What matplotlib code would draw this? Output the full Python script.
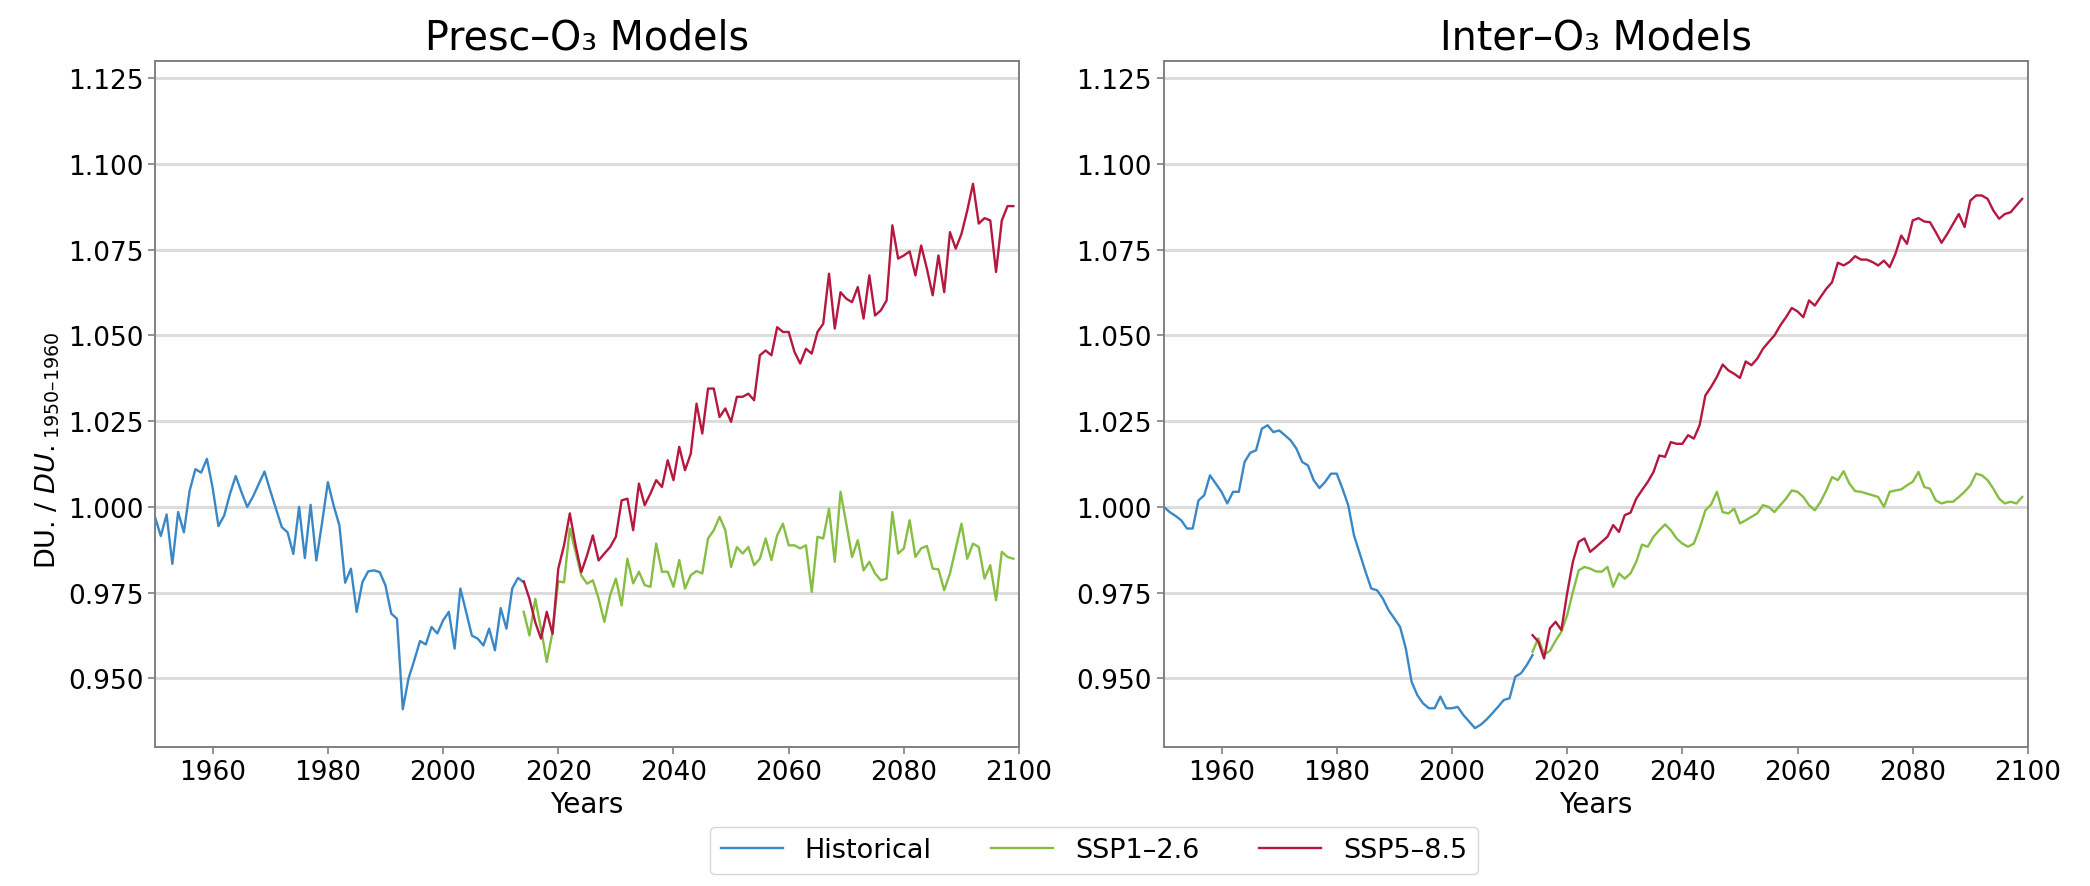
import numpy as np
import matplotlib
matplotlib.use("Agg")
import matplotlib.pyplot as plt

# years
hist_years = np.arange(1950, 2015)
ssp_years = np.arange(2014, 2100)

# Presc-O3 models
presc_hist = [
    0.997, 0.9915, 0.9978, 0.9834, 0.9985, 0.9926, 1.0047, 1.011, 1.010, 1.014,
    1.0055, 0.9944, 0.9975, 1.0038, 1.009, 1.0043, 1.000, 1.003, 1.0067, 1.0103,
    1.0047, 0.9994, 0.9941, 0.9926, 0.9863, 1.000, 0.9851, 1.0006, 0.9844, 0.9955,
    1.0072, 1.0004, 0.9946, 0.9779, 0.982, 0.9694, 0.9781, 0.9812, 0.9815, 0.981,
    0.9771, 0.9689, 0.9674, 0.941, 0.950, 0.9553, 0.9609, 0.9599, 0.965, 0.9631,
    0.9669, 0.9694, 0.9587, 0.9762, 0.9694, 0.9625, 0.9616, 0.9596, 0.9645, 0.9582,
    0.9705, 0.9645, 0.9762, 0.9793, 0.978,
]
presc_ssp126 = [
    0.9694, 0.9625, 0.9732, 0.9645, 0.9548, 0.9635, 0.9783, 0.978, 0.9937, 0.9869,
    0.980, 0.9776, 0.9786, 0.9733, 0.9665, 0.9743, 0.9791, 0.9713, 0.9849, 0.9777,
    0.9811, 0.9772, 0.9767, 0.9893, 0.9811, 0.9811, 0.9767, 0.9845, 0.9762, 0.9801,
    0.9813, 0.9806, 0.9908, 0.9932, 0.9971, 0.9932, 0.9825, 0.9883, 0.9864, 0.9883,
    0.983, 0.9849, 0.9908, 0.9845, 0.9917, 0.9951, 0.9888, 0.9888, 0.9879, 0.9888,
    0.9752, 0.9913, 0.9908, 0.9995, 0.984, 1.0044, 0.9951, 0.9854, 0.9903, 0.9815,
    0.984, 0.9806, 0.9786, 0.9791, 0.9985, 0.9864, 0.9879, 0.9961, 0.9854, 0.9879,
    0.9886, 0.982, 0.9818, 0.9757, 0.9806, 0.9879, 0.9951, 0.9849, 0.9893, 0.9883,
    0.9791, 0.983, 0.9728, 0.9869, 0.9854, 0.9849,
]
presc_ssp585 = [
    0.9783, 0.9732, 0.9664, 0.9616, 0.9694, 0.963, 0.982, 0.9888, 0.9981, 0.9888,
    0.981, 0.9859, 0.9917, 0.9844, 0.9864, 0.9883, 0.9913, 1.0019, 1.0024, 0.9932,
    1.0068, 1.0005, 1.0039, 1.0078, 1.0058, 1.0136, 1.0078, 1.0175, 1.0107, 1.0155,
    1.0301, 1.0214, 1.0345, 1.0345, 1.0262, 1.0287, 1.0248, 1.0321, 1.0321, 1.033,
    1.0311, 1.0442, 1.0456, 1.0442, 1.0524, 1.051, 1.051, 1.0452, 1.0418, 1.0461,
    1.0447, 1.051, 1.0534, 1.068, 1.052, 1.0626, 1.0607, 1.0597, 1.0641, 1.0549,
    1.0675, 1.0558, 1.0573, 1.0602, 1.0821, 1.0724, 1.0733, 1.0745, 1.0675, 1.0762,
    1.0694, 1.0617, 1.0733, 1.0626, 1.0801, 1.0753, 1.0796, 1.0864, 1.0942, 1.0826,
    1.0842, 1.0835, 1.0685, 1.0835, 1.0877, 1.0877,
]

# Inter-O3 models
inter_hist = [
    1.000, 0.9985, 0.9974, 0.9961, 0.9937, 0.9937, 1.0019, 1.0034, 1.0092, 1.0068,
    1.0044, 1.001, 1.0044, 1.0044, 1.0131, 1.0158, 1.0165, 1.0228, 1.0238, 1.0218,
    1.0223, 1.0209, 1.0194, 1.017, 1.0131, 1.0121, 1.0078, 1.0055, 1.0073, 1.0097,
    1.0097, 1.0053, 1.0005, 0.9917, 0.9864, 0.9811, 0.9762, 0.9757, 0.9733, 0.9699,
    0.9675, 0.965, 0.9587, 0.949, 0.9451, 0.9427, 0.9413, 0.9413, 0.9447, 0.9413,
    0.9413, 0.9417, 0.9393, 0.9374, 0.9355, 0.9365, 0.938, 0.9398, 0.9417, 0.9437,
    0.9442, 0.9505, 0.9515, 0.9539, 0.9568,
]
inter_ssp126 = [
    0.9578, 0.9617, 0.957, 0.958, 0.961, 0.9636, 0.9684, 0.9752, 0.9815, 0.9825,
    0.982, 0.9812, 0.9811, 0.9825, 0.9767, 0.9806, 0.9791, 0.9806, 0.984, 0.989,
    0.9884, 0.9913, 0.9932, 0.9949, 0.9932, 0.9908, 0.9893, 0.9884, 0.9893, 0.9937,
    0.999, 1.0007, 1.0044, 0.9985, 0.9981, 0.9995, 0.9952, 0.9961, 0.9971, 0.9981,
    1.0005, 1.000, 0.9985, 1.0005, 1.0024, 1.0048, 1.0044, 1.0029, 1.0005, 0.999,
    1.0015, 1.0048, 1.0087, 1.0078, 1.0104, 1.0068, 1.0046, 1.0044, 1.0039, 1.0034,
    1.0029, 1.000, 1.0044, 1.0048, 1.0051, 1.0063, 1.0073, 1.0102, 1.0058, 1.0053,
    1.0019, 1.001, 1.0015, 1.0015, 1.0029, 1.0044, 1.0063, 1.0097, 1.0092, 1.0078,
    1.0053, 1.0024, 1.001, 1.0015, 1.001, 1.0029,
]
inter_ssp585 = [
    0.9626, 0.9607, 0.9558, 0.9646, 0.9665, 0.9641, 0.9748, 0.984, 0.9898, 0.9908,
    0.9869, 0.9883, 0.9898, 0.9913, 0.9947, 0.9927, 0.9976, 0.9983, 1.0024, 1.0049,
    1.0073, 1.0102, 1.015, 1.0146, 1.0189, 1.0184, 1.0184, 1.0209, 1.0199, 1.0238,
    1.0325, 1.035, 1.0379, 1.0415, 1.0398, 1.0388, 1.0376, 1.0424, 1.0413, 1.0432,
    1.0461, 1.0481, 1.05, 1.0529, 1.0553, 1.058, 1.057, 1.0553, 1.0602, 1.0587,
    1.0612, 1.0636, 1.0655, 1.0712, 1.0704, 1.0714, 1.0731, 1.0721, 1.0721, 1.0714,
    1.0704, 1.0718, 1.0699, 1.0738, 1.0791, 1.0767, 1.0835, 1.0842, 1.0832, 1.083,
    1.0801, 1.077, 1.0796, 1.0825, 1.0854, 1.0816, 1.0893, 1.0908, 1.0908, 1.0898,
    1.0864, 1.084, 1.0854, 1.0859, 1.0879, 1.0898,
]

titles = ["Presc\u2013O\u2083 Models", "Inter\u2013O\u2083 Models"]
labels = ["Historical", "SSP1\u20132.6", "SSP5\u20138.5"]
colors = ["#3a87c6", "#86bd43", "#b5173f"]
y_ticks = [0.950, 0.975, 1.000, 1.025, 1.050, 1.075, 1.100, 1.125]
x_ticks = [1960, 1980, 2000, 2020, 2040, 2060, 2080, 2100]


def draw_panel(ax, hist, ssp126, ssp585, title, show_ylabel):
    ax.plot(hist_years, hist, color=colors[0], lw=1.7, label=labels[0])
    ax.plot(ssp_years, ssp126, color=colors[1], lw=1.7, label=labels[1])
    ax.plot(ssp_years, ssp585, color=colors[2], lw=1.7, label=labels[2])

    ax.set_xlim(1950, 2100)
    ax.set_ylim(0.93, 1.13)
    ax.set_xticks(x_ticks)
    ax.set_yticks(y_ticks)
    ax.set_yticklabels([f"{t:.3f}" for t in y_ticks])
    ax.grid(axis="y", color="#dcdcdc", lw=2.2)
    ax.set_axisbelow(True)
    for spine in ax.spines.values():
        spine.set_color("#808080")
        spine.set_linewidth(1.4)
    ax.tick_params(labelsize=19, color="#808080", length=5, width=1.2)
    ax.set_title(title, fontsize=28.5, pad=9)
    ax.set_xlabel("Years", fontsize=20, labelpad=4)
    if show_ylabel:
        ax.set_ylabel("DU. / $\\mathit{DU.}_{\\mathrm{1950\u20131960}}$", fontsize=19.5)
        ax.yaxis.set_label_coords(-0.108, 0.434)


fig = plt.figure(figsize=(20.9, 8.87), dpi=100)
fig.patch.set_facecolor("white")
ax_left = fig.add_axes([0.0742, 0.1567, 0.4134, 0.7734])
ax_right = fig.add_axes([0.5569, 0.1567, 0.4134, 0.7734])

draw_panel(ax_left, presc_hist, presc_ssp126, presc_ssp585, titles[0], True)
draw_panel(ax_right, inter_hist, inter_ssp126, inter_ssp585, titles[1], False)

handles, legend_labels = ax_left.get_legend_handles_labels()
fig.legend(
    handles,
    legend_labels,
    loc="upper center",
    bbox_to_anchor=(0.5234, 0.0823),
    ncol=3,
    fontsize=19.5,
    frameon=True,
    handlelength=2.3,
    columnspacing=2.2,
    edgecolor="#cccccc",
    fancybox=True,
)

fig.savefig("out.png", dpi=100, facecolor="white")
plt.close(fig)
